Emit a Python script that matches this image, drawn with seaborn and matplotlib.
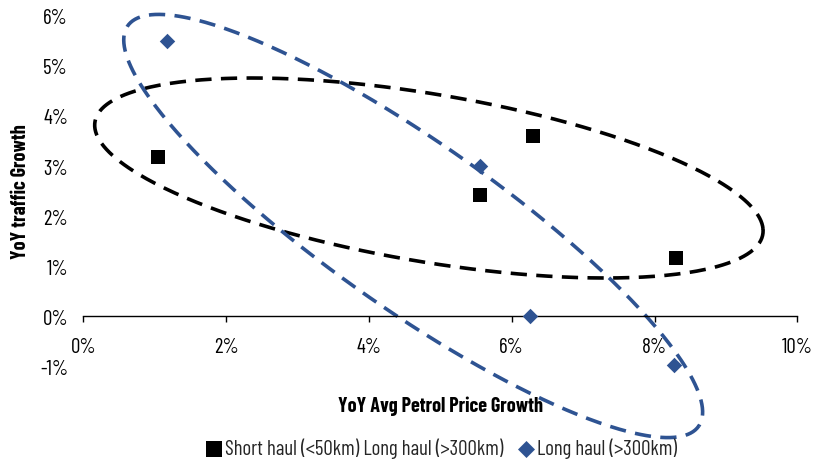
import numpy as np
import pandas as pd
import matplotlib
matplotlib.use("Agg")
import matplotlib.pyplot as plt
import seaborn as sns
from matplotlib.ticker import FuncFormatter

# ---- data (percent) ----
short_x = [1.05, 5.55, 6.3, 8.3]
short_y = [3.17, 2.42, 3.6, 1.17]
long_x = [1.17, 5.55, 6.25, 8.28]
long_y = [5.5, 3.0, 0.0, -0.98]
short_label = "Short haul (<50km) Long haul (>300km)"
long_label = "Long haul (>300km)"
x_ticks = [0, 2, 4, 6, 8, 10]
y_ticks = [-1, 0, 1, 2, 3, 4, 5, 6]

# ellipse annotations: centre, semi-axis vectors (data units)
black_ell = dict(c=(4.84, 2.76), a=(4.68, -1.02), b=(-0.10, 1.72))
blue_ell = dict(c=(4.62, 1.80), a=(4.0, -4.0), b=(-0.66, -1.38))

BLUE = "#2E5392"

sns.set_theme(style="white")
plt.rcParams["font.family"] = ["Barlow Condensed", "DejaVu Sans"]

fig = plt.figure(figsize=(8.3, 4.64), dpi=100)
ax = fig.add_axes([0.1004, 0.209, 0.8602, 0.7544])

df_s = pd.DataFrame({"x": short_x, "y": short_y})
df_l = pd.DataFrame({"x": long_x, "y": long_y})
sns.scatterplot(data=df_s, x="x", y="y", marker="s", s=115, color="black",
                linewidth=0, ax=ax, label=short_label, zorder=3, clip_on=False)
sns.scatterplot(data=df_l, x="x", y="y", marker="D", s=62, color=BLUE,
                linewidth=0, ax=ax, label=long_label, zorder=3, clip_on=False)

t = np.linspace(0, 2 * np.pi, 400)
for e, col in [(black_ell, "black"), (blue_ell, BLUE)]:
    ex = e["c"][0] + e["a"][0] * np.cos(t) + e["b"][0] * np.sin(t)
    ey = e["c"][1] + e["a"][1] * np.cos(t) + e["b"][1] * np.sin(t)
    ax.plot(ex, ey, color=col, lw=2.6, ls=(0, (4.5, 2.6)), clip_on=False, zorder=2)

ax.set_xlim(0, 10)
ax.set_ylim(-1, 6)
ax.set_xticks(x_ticks)
ax.set_yticks(y_ticks)
fmt = FuncFormatter(lambda v, p: f"{v:.0f}%")
ax.xaxis.set_major_formatter(fmt)
ax.yaxis.set_major_formatter(fmt)

for s in ["top", "right", "left"]:
    ax.spines[s].set_visible(False)
ax.spines["bottom"].set_position(("data", 0))
ax.spines["bottom"].set_color("black")
ax.spines["bottom"].set_linewidth(1.0)

ax.tick_params(axis="x", direction="out", length=4, width=1, color="black",
               pad=11, labelsize=15, bottom=True)
ax.tick_params(axis="y", length=0, pad=11, labelsize=15)
for lab in ax.get_xticklabels() + ax.get_yticklabels():
    lab.set_color("black")

ax.set_xlabel("YoY Avg Petrol Price Growth", fontsize=14.5, fontweight="bold",
              color="black")
ax.xaxis.set_label_coords(0.5, -0.085)
ax.set_ylabel("YoY traffic Growth", fontsize=14.5, fontweight="bold", color="black")
ax.yaxis.set_label_coords(-0.075, 0.5)

ax.legend(loc="upper center", bbox_to_anchor=(0.5, -0.193), ncol=2, frameon=False,
          fontsize=15, handletextpad=0.0, columnspacing=0.6, handlelength=1.0,
          markerscale=1.1, borderaxespad=0.0, borderpad=0.2)

fig.savefig("out.png", dpi=100)
